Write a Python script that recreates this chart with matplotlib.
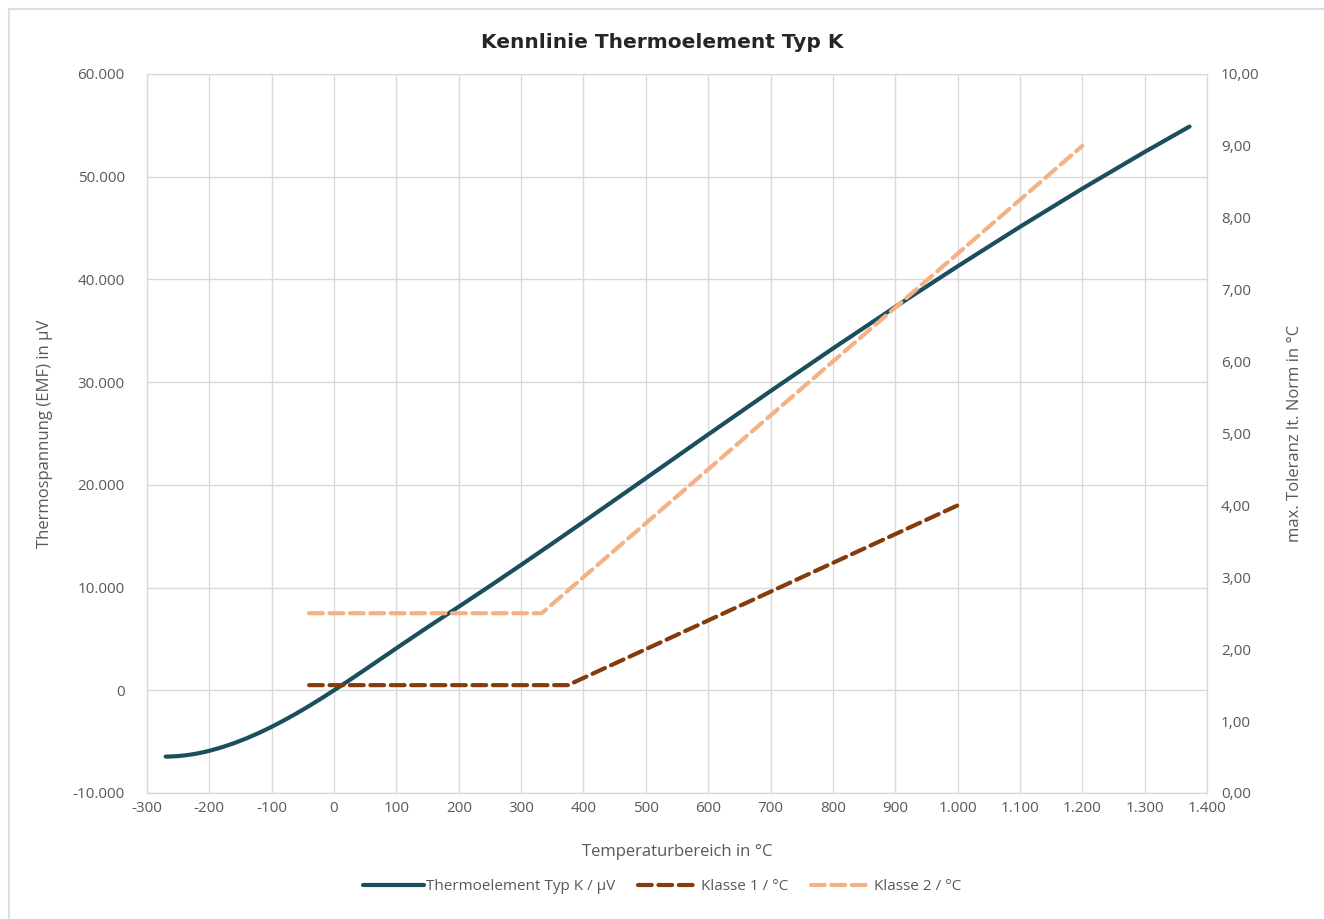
import matplotlib
matplotlib.use("Agg")
import matplotlib.pyplot as plt
from matplotlib.ticker import FuncFormatter, MultipleLocator
from matplotlib.lines import Line2D

# Thermoelement Typ K, EMF in uV
temp_k = [-270, -260, -250, -240, -230, -220, -210, -200, -180, -160, -140, -120,
          -100, -80, -60, -40, -20, 0, 25, 50, 75, 100, 150, 200, 250, 300, 350,
          400, 500, 600, 700, 800, 900, 1000, 1100, 1200, 1300, 1372]
emf_k = [-6458, -6441, -6404, -6344, -6262, -6158, -6035, -5891, -5550, -5141, -4669,
         -4138, -3554, -2920, -2243, -1527, -778, 0, 1000, 2023, 3059, 4096, 6138,
         8138, 10153, 12209, 14293, 16397, 20644, 24905, 29129, 33275, 37326, 41276,
         45119, 48838, 52410, 54886]

# Toleranzen (rechte Achse)
temp_k1 = [-40, 375, 1000]
tol_k1 = [1.5, 1.5, 4.0]
temp_k2 = [-40, 333, 1200]
tol_k2 = [2.5, 2.5, 9.0]

c_main = '#1b4f5e'
c_k1 = '#843c0c'
c_k2 = '#f4b183'
grey = '#595959'
gridc = '#d9d9d9'

plt.rcParams['font.family'] = ['Open Sans', 'DejaVu Sans']

fig = plt.figure(figsize=(13.24, 9.19), dpi=100)
ax = fig.add_axes([147/1324, 1-793/919, (1207-147)/1324, (793-74)/919])
ax2 = ax.twinx()

def thousands(v, pos):
    s = f"{int(round(v)):,}".replace(",", ".")
    return s

def comma2(v, pos):
    return f"{v:.2f}".replace(".", ",")

l1, = ax.plot(temp_k, emf_k, color=c_main, lw=3, solid_capstyle='round',
              solid_joinstyle='round', zorder=3)
l2, = ax2.plot(temp_k1, tol_k1, color=c_k1, lw=3, dashes=(3.3, 1.6), dash_capstyle='round')
l3, = ax2.plot(temp_k2, tol_k2, color=c_k2, lw=3, dashes=(3.3, 1.6), dash_capstyle='round')

ax.set_xlim(-300, 1400)
ax.set_ylim(-10000, 60000)
ax2.set_ylim(0, 10)
ax.xaxis.set_major_locator(MultipleLocator(100))
ax.yaxis.set_major_locator(MultipleLocator(10000))
ax2.yaxis.set_major_locator(MultipleLocator(1))
ax.xaxis.set_major_formatter(FuncFormatter(thousands))
ax.yaxis.set_major_formatter(FuncFormatter(thousands))
ax2.yaxis.set_major_formatter(FuncFormatter(comma2))

ax.grid(True, color=gridc, lw=1)
ax.set_axisbelow(True)
for a in (ax, ax2):
    for s in a.spines.values():
        s.set_color(gridc)
    a.tick_params(length=0, labelsize=11, labelcolor=grey)
ax.tick_params(axis='y', pad=16)
ax2.tick_params(axis='y', pad=10)
ax.tick_params(axis='x', pad=6)

ax.set_xlabel('Temperaturbereich in °C', fontsize=12, color=grey, labelpad=20)
ax.set_ylabel('Thermospannung (EMF) in µV', fontsize=12, color=grey, labelpad=14)
ax2.set_ylabel('max. Toleranz lt. Norm in °C', fontsize=12, color=grey, labelpad=20)

fig.text(0.5, 1-42/919, 'Kennlinie Thermoelement Typ K', ha='center', va='center',
         fontsize=14.5, fontweight='bold', color='#262626', family=['DejaVu Sans'])

fig.legend([l1, l2, l3], ['Thermoelement Typ K / µV', 'Klasse 1 / °C', 'Klasse 2 / °C'],
           loc='center', bbox_to_anchor=(0.5, 1-887/919), ncol=3, frameon=False,
           fontsize=11, labelcolor=grey, handlelength=4, handletextpad=0.1, columnspacing=1.5)

# chart border: only left and top visible in the reference crop
bx, by = 8.5/1324, 1-8.5/919
fig.add_artist(Line2D([bx, 1.0], [by, by], transform=fig.transFigure, color='#d3dfea', lw=1.5))
fig.add_artist(Line2D([bx, bx], [0, by], transform=fig.transFigure, color='#d3dfea', lw=1.5))

fig.savefig('out.png', dpi=100)
